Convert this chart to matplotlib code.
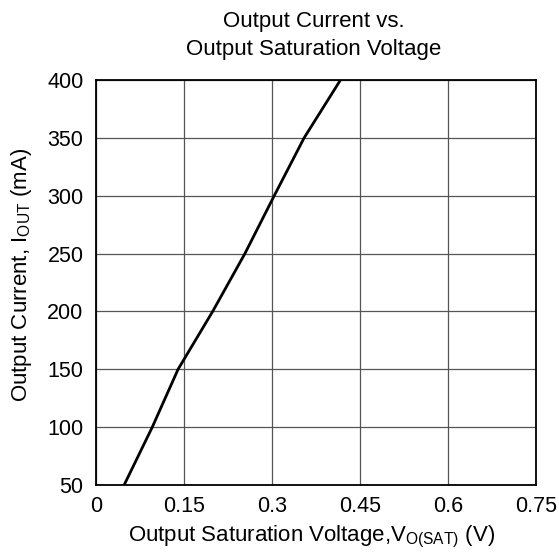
import matplotlib
matplotlib.use("Agg")
import matplotlib.pyplot as plt

plt.rcParams['font.family'] = ['Liberation Sans', 'DejaVu Sans']
plt.rcParams['mathtext.fontset'] = 'custom'
plt.rcParams['mathtext.rm'] = 'Liberation Sans'
plt.rcParams['mathtext.it'] = 'Liberation Sans'

v_sat = [0.048, 0.096, 0.140, 0.199, 0.254, 0.304, 0.355, 0.417]
i_out = [50, 100, 150, 200, 250, 300, 350, 400]
x_ticks = [0, 0.15, 0.3, 0.45, 0.6, 0.75]
x_tick_labels = ['0', '0.15', '0.3', '0.45', '0.6', '0.75']
y_ticks = [50, 100, 150, 200, 250, 300, 350, 400]

W, H = 559, 556
fig = plt.figure(figsize=(W/100, H/100), dpi=100)
ax = fig.add_axes([96/W, 1-485/H, (535.7-96)/W, (485-80)/H])

ax.plot(v_sat, i_out, color='black', linewidth=2.0, solid_capstyle='butt', zorder=3)
ax.set_xlim(0, 0.75)
ax.set_ylim(50, 400)
ax.set_xticks(x_ticks)
ax.set_xticklabels(x_tick_labels)
ax.set_yticks(y_ticks)
ax.grid(True, color='#555555', linewidth=0.9)
ax.tick_params(length=0, labelsize=15.5)
ax.tick_params(axis='x', pad=8)
ax.tick_params(axis='y', pad=9)
for s in ax.spines.values():
    s.set_linewidth(1.3)
    s.set_color('black')

fig.text(314/W, 1 - 22/H, 'Output Current vs.', ha='center', va='center', fontsize=16)
fig.text(314/W, 1 - 50/H, 'Output Saturation Voltage', ha='center', va='center', fontsize=16)
fig.text(312/W, 1 - 537/H, r'Output Saturation Voltage,V$_{\mathrm{O(SAT)}}$ (V)',
         ha='center', va='center', fontsize=16)
fig.text(21/W, 1 - 274.5/H, r'Output Current, I$_{\mathrm{OUT}}$ (mA)',
         ha='center', va='center', rotation=90, fontsize=16)

fig.savefig('out.png', dpi=100)
